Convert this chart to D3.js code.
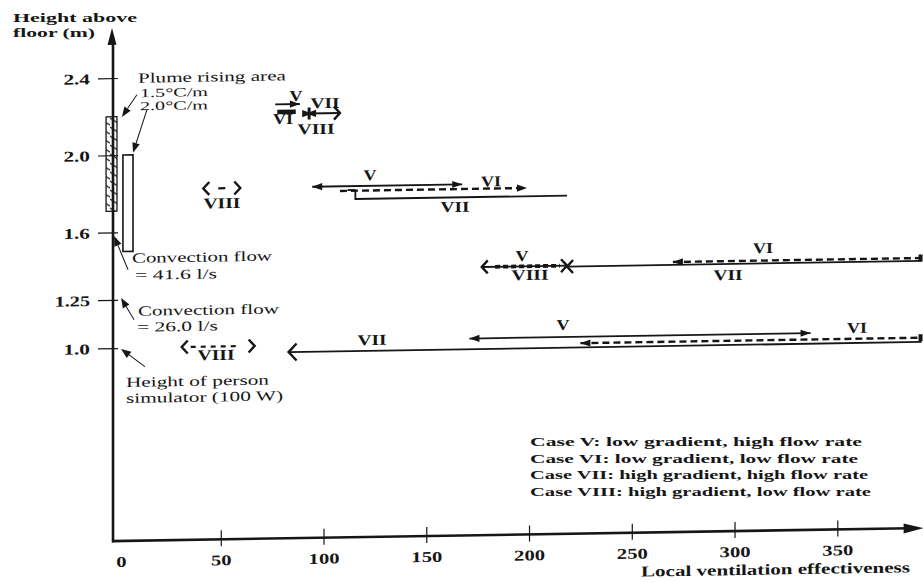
<!DOCTYPE html>
<html><head><meta charset="utf-8">
<script src="https://cdn.jsdelivr.net/npm/d3@7"></script>
<style>body{margin:0;background:#fff}svg{display:block}</style>
</head><body>
<svg id="c" width="923" height="582"></svg>
<script>
// ---------- data (x = local ventilation effectiveness, h = height above floor, m) ----------
const xTicks = [0, 50, 100, 150, 200, 250, 300, 350];
const xTickLabels = ["0", "50", "100", "150", "200", "250", "300", "350"];
const yTicks = [2.4, 2.0, 1.6, 1.25, 1.0];
const yTickLabels = ["2.4", "2.0", "1.6", "1.25", "1.0"];

// ranges [from, to, height]
const caseV    = [[76.5, 88.5, 2.25], [94.5, 167.5, 1.82],  [177, 218.5, 1.39],  [171, 337, 1.02]];
const caseVI   = [[77.5, 86.5, 2.21], [108, 199, 1.796],    [270, 391, 1.40],    [225, 391, 0.987]];
const caseVII  = [[93, 108, 2.20],    [115.5, 218.5, 1.753],[218.5, 391, 1.385], [83, 391, 0.965]];
const caseVIII = [[91.5, 94.5, 2.20], [41.5, 59.5, 1.82],   [183.5, 215, 1.39],  [31, 66.5, 1.0]];

// label anchors [x, h]
const labelV    = [[86.6, 2.266], [122.6, 1.850], [196.6, 1.418], [216.5, 1.057]];
const labelVI   = [[80.3, 2.148], [181.5, 1.808], [313.9, 1.439], [359.6, 1.017]];
const labelVII  = [[100.7, 2.227],[164, 1.678],   [296.8, 1.302], [123.6, 0.995]];
const labelVIII = [[96.4, 2.093], [50.6, 1.717],  [200.5, 1.319], [47.7, 0.930]];

// plume areas [x0, x1, hBottom, hTop]
const plumeHatched = [-5.8, -0.5, 1.71, 2.20];
const plumePlain   = [2.4, 7.3, 1.50, 2.00];

const legendLines = [
  "Case V: low gradient, high flow rate",
  "Case VI: low gradient, low flow rate",
  "Case VII: high gradient, high flow rate",
  "Case VIII: high gradient, low flow rate"
];

// ---------- styling (separate from data) ----------
const caseStyle = {
  V:    {dash: null,  w: 1.8, marks: [["none","arrow"],["arrow","arrow"],["chev","chev"],["arrow","arrow"]], over: [{},{},{},{}]},
  VI:   {dash: "7,4", w: 2.4, marks: [["none","none"],["none","arrow"],["arrow","cap"],["arrow","cap"]], over: [{dash:null,w:4.5},{},{},{}]},
  VII:  {dash: null,  w: 1.8, marks: [["bar","chev"],["hook","none"],["chev","none"],["bigchev","none"]], over: [{},{},{},{}]},
  VIII: {dash: "5,5", w: 2.2, marks: [["arrow","arrow"],["chev","chev"],["none","none"],["chev","chev"]], over: [{w:3},{dash:"0,15,7,40"},{dash:"5,3",w:3.8},{dash:"0,9,5,5,5,5,5,5,5,5,5,40"}]}
};
const cases = [
  {name: "V", segs: caseV, labels: labelV},
  {name: "VI", segs: caseVI, labels: labelVI},
  {name: "VII", segs: caseVII, labels: labelVII},
  {name: "VIII", segs: caseVIII, labels: labelVIII}
];
const labelWidth = {V: 13, VI: 20, VII: 29, VIII: 37};

// ---------- scales ----------
const x = d3.scaleLinear().domain([0, 392]).range([118, 923.6]);
const y = d3.scaleLinear().domain([0, 2.4]).range([541, 78]);
const ink = "#161616";
const serif = "'Liberation Serif', 'Times New Roman', serif";

const svg = d3.select("#c");
const defs = svg.append("defs");
const pat = defs.append("pattern").attr("id", "hatch").attr("patternUnits", "userSpaceOnUse")
  .attr("width", 11).attr("height", 9);
pat.append("path").attr("d", "M0,1 L11,8").attr("stroke", ink).attr("stroke-width", 1.1);

// scanned page is slightly skewed
const g = svg.append("g").attr("transform", "translate(118,541) skewY(-0.92) translate(-118,-541)");
const flat = svg.append("g");

function txt(str, px, py, o, parent) {
  const t = (parent || g).append("text").attr("x", px).attr("y", py).text(str)
    .attr("font-family", serif).attr("font-size", o.size || 15)
    .attr("font-weight", o.bold ? "bold" : "normal")
    .attr("text-anchor", o.anchor || "start").attr("fill", ink);
  if (o.len) t.attr("textLength", o.len).attr("lengthAdjust", "spacingAndGlyphs");
  return t;
}

// ---------- axes ----------
const axisX = x(0) - 5;
const yTop = 2.66;
// x axis
const gx = g.append("g").attr("transform", `translate(0,${y(0)})`)
  .call(d3.axisBottom(x).tickValues(xTicks).tickFormat((d, i) => xTickLabels[i]));
gx.select(".domain").remove();
gx.selectAll(".tick line").attr("y1", -9).attr("y2", 7).attr("stroke", ink).attr("stroke-width", 1.2)
  .attr("display", d => d === 0 ? "none" : null);
gx.selectAll(".tick text").attr("y", 26).attr("dy", null).attr("dx", d => d === 0 ? 3 : 0)
  .attr("font-family", serif).attr("font-size", 15).attr("font-weight", "bold").attr("fill", ink)
  .attr("textLength", (d, i) => xTickLabels[i].length * 10.3).attr("lengthAdjust", "spacingAndGlyphs");
g.append("line").attr("x1", axisX - 1).attr("x2", x(392) - 14).attr("y1", y(0)).attr("y2", y(0))
  .attr("stroke", ink).attr("stroke-width", 2.6);
g.append("path").attr("d", `M${x(392)},${y(0)} L${x(392) - 20},${y(0) - 5} L${x(392) - 20},${y(0) + 5} Z`).attr("fill", ink);

// y axis
const gy = g.append("g").attr("transform", `translate(${axisX},0)`)
  .call(d3.axisLeft(y).tickValues(yTicks).tickFormat((d, i) => yTickLabels[i]));
gy.select(".domain").remove();
gy.selectAll(".tick line").attr("x1", -15).attr("x2", 5).attr("stroke", ink).attr("stroke-width", 1.2);
gy.selectAll(".tick text").attr("x", -23).attr("dy", "0.35em")
  .attr("font-family", serif).attr("font-size", 15).attr("font-weight", "bold").attr("fill", ink)
  .attr("textLength", (d, i) => yTickLabels[i].length * 8.7 + 0.5)
  .attr("lengthAdjust", "spacingAndGlyphs");
g.append("line").attr("x1", axisX).attr("x2", axisX).attr("y1", y(0) + 1.3).attr("y2", y(yTop) + 12)
  .attr("stroke", ink).attr("stroke-width", 2.6);
g.append("path").attr("d", `M${axisX - 1},${y(yTop)} L${axisX - 5.5},${y(yTop) + 17} L${axisX + 3.5},${y(yTop) + 17} Z`).attr("fill", ink);

// axis titles
txt("Height above", 13, 22, {bold: true, size: 13, len: 124}, flat);
txt("floor (m)", 13, 37, {bold: true, size: 13, len: 82}, flat);
txt("Local ventilation effectiveness", 641, 585, {bold: true, size: 15, len: 269});

// ---------- plume areas & annotations ----------
g.append("rect").attr("x", x(plumeHatched[0])).attr("width", x(plumeHatched[1]) - x(plumeHatched[0]))
  .attr("y", y(plumeHatched[3])).attr("height", y(plumeHatched[2]) - y(plumeHatched[3]))
  .attr("fill", "url(#hatch)").attr("stroke", ink).attr("stroke-width", 1.3);
g.append("rect").attr("x", x(plumePlain[0])).attr("width", x(plumePlain[1]) - x(plumePlain[0]))
  .attr("y", y(plumePlain[3])).attr("height", y(plumePlain[2]) - y(plumePlain[3]))
  .attr("fill", "none").attr("stroke", ink).attr("stroke-width", 1.6);

// annotation pointers [fromX, fromH, toX, toH]
const pointers = [
  [9.2, 2.312, 1.9, 2.198],
  [14.1, 2.234, 7.3, 2.011],
  [4.9, 1.405, -1.9, 1.581],
  [7.8, 1.146, 1.5, 1.26],
  [13.1, 0.902, 1.5, 0.995]
];
pointers.forEach(p => {
  const x1 = x(p[0]), y1 = y(p[1]), x2 = x(p[2]), y2 = y(p[3]);
  const a = Math.atan2(y2 - y1, x2 - x1), L = 10, Wd = 3.8;
  const bx = x2 - L * Math.cos(a), by = y2 - L * Math.sin(a);
  g.append("line").attr("x1", x1).attr("y1", y1).attr("x2", bx).attr("y2", by).attr("stroke", ink).attr("stroke-width", 1);
  g.append("path").attr("d", `M${x2},${y2} L${bx + Wd * Math.sin(a)},${by - Wd * Math.cos(a)} L${bx - Wd * Math.sin(a)},${by + Wd * Math.cos(a)} Z`).attr("fill", ink);
});

// annotation texts [text, x, h, width, size]
const notes = [
  ["Plume rising area", 9.7, 2.374, 148, 14],
  ["1.5°C/m", 10.7, 2.299, 68, 12.5],
  ["2.0°C/m", 10.7, 2.231, 68, 12.5],
  ["Convection flow", 6.8, 1.441, 140, 14],
  ["= 41.6 l/s", 8.3, 1.353, 82, 14],
  ["Convection flow", 9.7, 1.166, 141, 14],
  ["= 26.0 l/s", 9.2, 1.083, 81, 14],
  ["Height of person", 3.9, 0.798, 143, 14],
  ["simulator (100 W)", 3.9, 0.715, 157, 14]
];
notes.forEach(n => txt(n[0], x(n[1]), y(n[2]), {size: n[4], len: n[3]}));

// ---------- case ranges ----------
function mark(type, px, py, dir) {
  if (type === "arrow") {
    g.append("path").attr("d", `M${px},${py} L${px - dir * 10},${py - 3.6} L${px - dir * 10},${py + 3.6} Z`).attr("fill", ink);
  } else if (type === "chev" || type === "bigchev") {
    const hh = type === "bigchev" ? 8.5 : 6.5, ll = type === "bigchev" ? 8 : 6;
    g.append("path").attr("d", `M${px - dir * ll},${py - hh} L${px},${py} L${px - dir * ll},${py + hh}`)
      .attr("fill", "none").attr("stroke", ink).attr("stroke-width", 2.4).attr("stroke-linejoin", "miter");
  } else if (type === "bar") {
    g.append("line").attr("x1", px).attr("x2", px).attr("y1", py - 6).attr("y2", py + 6).attr("stroke", ink).attr("stroke-width", 3);
  } else if (type === "hook") {
    g.append("line").attr("x1", px).attr("x2", px).attr("y1", py + 1).attr("y2", py - 9).attr("stroke", ink).attr("stroke-width", 1.8);
    g.append("line").attr("x1", px).attr("x2", px - 8).attr("y1", py - 9).attr("y2", py - 9).attr("stroke", ink).attr("stroke-width", 1.8);
  } else if (type === "cap") {
    g.append("rect").attr("x", px - 3).attr("y", py - 3.5).attr("width", 4).attr("height", 7).attr("fill", ink);
  }
}

cases.forEach(c => {
  const st = caseStyle[c.name];
  c.segs.forEach((s, i) => {
    const ov = st.over[i];
    const dash = ov.dash !== undefined ? ov.dash : st.dash;
    const w = ov.w || st.w;
    const x0 = x(s[0]), x1 = x(s[1]), py = y(s[2]);
    const ln = g.append("line").attr("x1", x0).attr("x2", x1).attr("y1", py).attr("y2", py)
      .attr("stroke", ink).attr("stroke-width", w);
    if (dash) ln.attr("stroke-dasharray", dash);
    mark(st.marks[i][0], x0, py, -1);
    mark(st.marks[i][1], x1, py, 1);
  });
  c.labels.forEach(l => txt(c.name, x(l[0]), y(l[1]), {bold: true, size: 15, anchor: "middle", len: labelWidth[c.name]}));
});

// ---------- legend ----------
const legendBase = [446, 462.5, 479, 495.5];
const legendW = [332, 328, 338, 341];
legendLines.forEach((t, i) => txt(t, 530, legendBase[i], {bold: true, size: 13.5, len: legendW[i]}, flat));
</script>
</body></html>
